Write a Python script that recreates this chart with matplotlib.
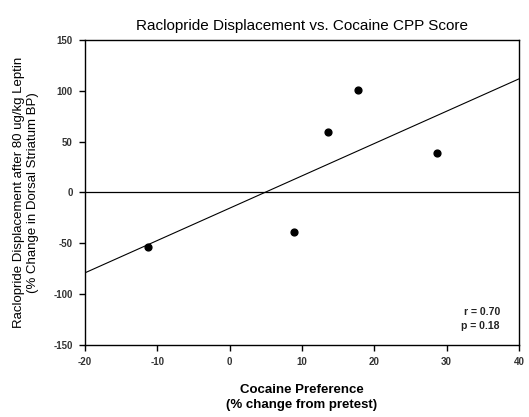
import numpy as np
import matplotlib
matplotlib.use("Agg")
import matplotlib.pyplot as plt

plt.rcParams['font.family'] = ['Liberation Sans', 'DejaVu Sans']
plt.rcParams['axes.unicode_minus'] = False

# Cocaine preference (% change from pretest) and raclopride displacement (%)
cocaine_pref = [-11.3, 8.9, 13.6, 17.7, 28.7]
raclopride_disp = [-54, -39, 59, 101, 39]

x_ticks = [-20, -10, 0, 10, 20, 30, 40]
y_ticks = [-150, -100, -50, 0, 50, 100, 150]
stats_text = "r = 0.70\np = 0.18"

fig = plt.figure(figsize=(5.29, 4.17), dpi=100)
ax = fig.add_axes([0.161, 0.173, 0.82, 0.731])

# least-squares regression line across the full x range
slope, intercept = np.polyfit(cocaine_pref, raclopride_disp, 1)
xl = np.array([x_ticks[0], x_ticks[-1]])
ax.plot(xl, slope * xl + intercept, color='black', lw=0.8, zorder=2)

ax.axhline(0, color='black', lw=0.9, zorder=1)
ax.scatter(cocaine_pref, raclopride_disp, s=24, color='black', zorder=3)

ax.set_xlim(x_ticks[0], x_ticks[-1])
ax.set_ylim(y_ticks[0], y_ticks[-1])
ax.set_xticks(x_ticks)
ax.set_yticks(y_ticks)
ax.tick_params(direction='out', length=4, width=1, labelsize=7, pad=5)
for lbl in ax.get_xticklabels() + ax.get_yticklabels():
    lbl.set_fontweight('bold')
    lbl.set_color('#333333')
for sp in ax.spines.values():
    sp.set_linewidth(1.0)

ax.set_title("Raclopride Displacement vs. Cocaine CPP Score", fontsize=11, pad=7)
ax.set_xlabel("Cocaine Preference\n(% change from pretest)", fontsize=9.5,
              fontweight='bold', labelpad=12, linespacing=1.3)
ax.set_ylabel("Raclopride Displacement after 80 ug/kg Leptin\n(% Change in Dorsal Striatum BP)",
              fontsize=9.5, labelpad=10, linespacing=1.25)

ax.text(0.956, 0.085, stats_text, transform=ax.transAxes, ha='right', va='center',
        fontsize=7.5, fontweight='bold', linespacing=1.4, color='#222222')

fig.savefig("out.png", dpi=100)
